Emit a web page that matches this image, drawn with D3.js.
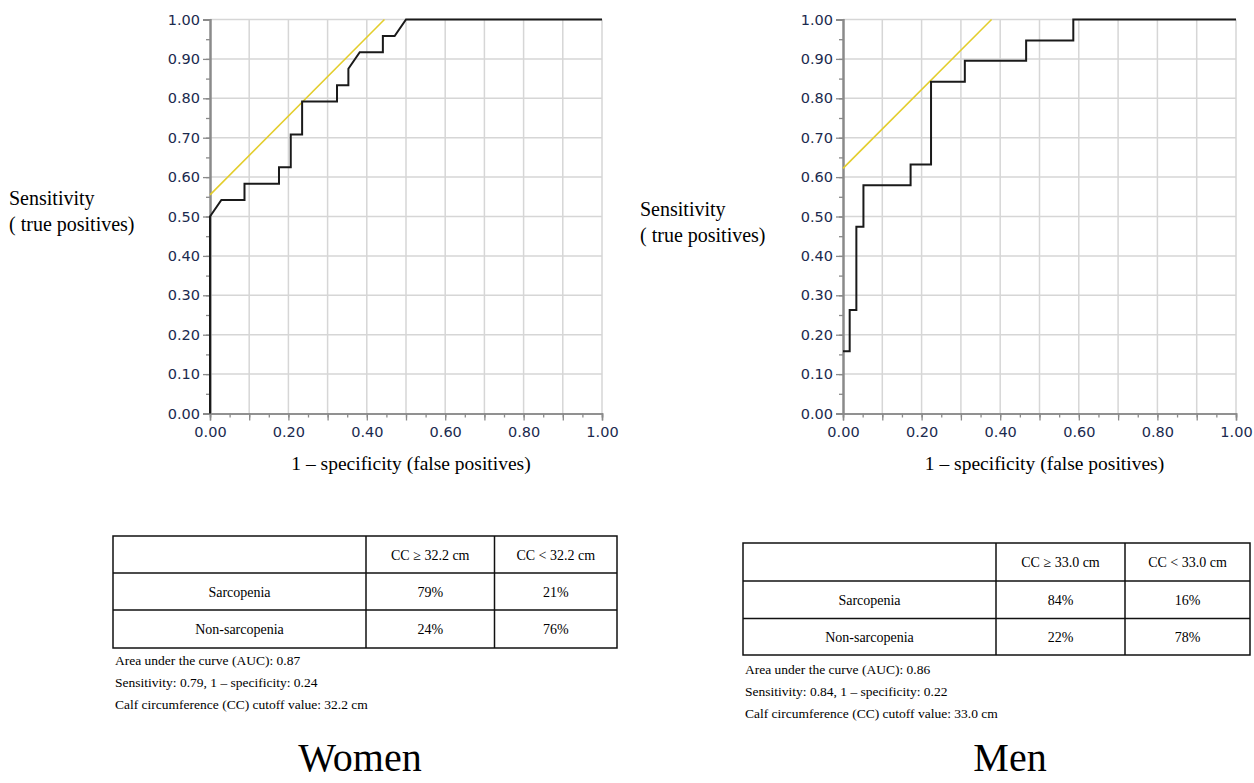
<!DOCTYPE html>
<html>
<head>
<meta charset="utf-8">
<script src="https://cdn.jsdelivr.net/npm/d3@7"></script>
<style>
  body { margin: 0; background: #fff; }
  svg { display: block; }
</style>
</head>
<body>
<div id="chart"></div>
<script>
// ROC curve steps (1 - specificity, sensitivity)
const womenFpr = [0, 0, 0.029, 0.088, 0.088, 0.176, 0.176, 0.206, 0.206, 0.235, 0.235, 0.324, 0.324, 0.353, 0.353, 0.382, 0.441, 0.441, 0.471, 0.5, 1]
const womenTpr = [0, 0.5, 0.542, 0.542, 0.583, 0.583, 0.625, 0.625, 0.708, 0.708, 0.792, 0.792, 0.833, 0.833, 0.875, 0.917, 0.917, 0.958, 0.958, 1, 1]
const menFpr = [0, 0.017, 0.017, 0.034, 0.034, 0.052, 0.052, 0.172, 0.172, 0.224, 0.224, 0.31, 0.31, 0.466, 0.466, 0.586, 0.586, 1]
const menTpr = [0.158, 0.158, 0.263, 0.263, 0.474, 0.474, 0.579, 0.579, 0.632, 0.632, 0.842, 0.842, 0.895, 0.895, 0.947, 0.947, 1, 1]

// tangent (cutoff) lines, start / end
const womenTangentX = [0, 0.445]
const womenTangentY = [0.555, 1]
const menTangentX = [0, 0.378]
const menTangentY = [0.622, 1]

// tables
const womenHeader = ["", "CC \u2265 32.2 cm", "CC < 32.2 cm"]
const womenRows = [["Sarcopenia", "79%", "21%"], ["Non-sarcopenia", "24%", "76%"]]
const womenNotes = ["Area under the curve (AUC): 0.87", "Sensitivity: 0.79, 1 \u2013 specificity: 0.24", "Calf circumference (CC) cutoff value: 32.2 cm"]
const menHeader = ["", "CC \u2265 33.0 cm", "CC < 33.0 cm"]
const menRows = [["Sarcopenia", "84%", "16%"], ["Non-sarcopenia", "22%", "78%"]]
const menNotes = ["Area under the curve (AUC): 0.86", "Sensitivity: 0.84, 1 \u2013 specificity: 0.22", "Calf circumference (CC) cutoff value: 33.0 cm"]

const panelTitles = ["Women", "Men"]
const xTitle = "1 \u2013 specificity (false positives)"
const yTitle = ["Sensitivity", "( true positives)"]

const width = 1254, height = 783
const serif = "'Liberation Serif', 'Times New Roman', serif"
const tickColor = "#1b2a4e"

const svg = d3.create("svg")
  .attr("width", width)
  .attr("height", height)
  .attr("viewBox", [0, 0, width, height])
svg.append("rect").attr("width", width).attr("height", height).attr("fill", "#fff")

function drawRoc({ left, right, top, bottom, fpr, tpr, tx, ty, yTitleX, yTitleY }) {
  const x = d3.scaleLinear().domain([0, 1]).range([left, right])
  const y = d3.scaleLinear().domain([0, 1]).range([bottom, top])
  const g = svg.append("g")
  const grid = d3.range(0, 1.0001, 0.1)

  // grid
  g.append("g")
    .attr("stroke", "#d6d6d6")
    .attr("stroke-width", 1.5)
    .call(s => s.selectAll(".v").data(grid.slice(1)).join("line")
      .attr("x1", d => x(d)).attr("x2", d => x(d)).attr("y1", top).attr("y2", bottom))
    .call(s => s.selectAll(".h").data(grid.slice(1)).join("line")
      .attr("x1", left).attr("x2", right).attr("y1", d => y(d)).attr("y2", d => y(d)))

  // minor ticks
  const xMinor = d3.axisBottom(x).tickValues(d3.range(0, 1.0001, 0.05)).tickSize(4).tickFormat("")
  const yMinor = d3.axisLeft(y).tickValues(d3.range(0, 1.0001, 0.05)).tickSize(4).tickFormat("")
  const xAxis = d3.axisBottom(x).tickValues(grid).tickSize(7).tickPadding(6)
    .tickFormat(d => Math.round(d * 10) % 2 === 0 ? d3.format(".2f")(d) : "")
  const yAxis = d3.axisLeft(y).tickValues(grid).tickSize(7).tickPadding(3).tickFormat(d3.format(".2f"))

  const styleAxis = (s, w) => {
    s.selectAll(".domain").attr("stroke", "#8a8a8a").attr("stroke-width", w)
    s.selectAll(".tick line").attr("stroke", "#8a8a8a").attr("stroke-width", 1.3)
    s.selectAll(".tick text").attr("fill", tickColor)
      .style("font-family", "'DejaVu Sans', sans-serif").style("font-size", "14.5px")
  }
  g.append("g").attr("transform", `translate(0,${bottom})`).call(xMinor).call(styleAxis, 1.5)
  g.append("g").attr("transform", `translate(0,${bottom})`).call(xAxis).call(styleAxis, 1.5)
  g.append("g").attr("transform", `translate(${left},0)`).call(yMinor).call(styleAxis, 2)
  g.append("g").attr("transform", `translate(${left},0)`).call(yAxis).call(styleAxis, 2)

  // tangent line
  g.append("line")
    .attr("x1", x(tx[0])).attr("y1", y(ty[0]))
    .attr("x2", x(tx[1])).attr("y2", y(ty[1]))
    .attr("stroke", "#e3cd2c")
    .attr("stroke-width", 1.6)

  // roc curve
  const line = d3.line().x(i => x(fpr[i])).y(i => y(tpr[i]))
  g.append("path")
    .attr("d", line(d3.range(fpr.length)))
    .attr("fill", "none")
    .attr("stroke", "#1a1a1a")
    .attr("stroke-width", 2)
    .attr("stroke-linejoin", "miter")

  // titles
  g.append("text")
    .attr("x", (left + right) / 2 + 5).attr("y", 470)
    .attr("text-anchor", "middle")
    .style("font-family", serif).style("font-size", "19.5px")
    .text(xTitle)
  g.append("text")
    .style("font-family", serif).style("font-size", "20px")
    .selectAll("tspan").data(yTitle).join("tspan")
    .attr("x", yTitleX).attr("y", (d, i) => yTitleY + i * 26)
    .text(d => d)
}

function drawTable({ cols, rowsY, header, rows, notes, notesY, title, titleX }) {
  const g = svg.append("g").style("font-family", serif)
  const [x0, c1, c2, x1] = cols
  g.append("rect")
    .attr("x", x0).attr("y", rowsY[0])
    .attr("width", x1 - x0).attr("height", rowsY[3] - rowsY[0])
    .attr("fill", "none").attr("stroke", "#111").attr("stroke-width", 1.5)
  g.selectAll(".rl").data(rowsY.slice(1, 3)).join("line")
    .attr("x1", x0).attr("x2", x1).attr("y1", d => d).attr("y2", d => d)
    .attr("stroke", "#111").attr("stroke-width", 1.5)
  g.selectAll(".cl").data([c1, c2]).join("line")
    .attr("x1", d => d).attr("x2", d => d).attr("y1", rowsY[0]).attr("y2", rowsY[3])
    .attr("stroke", "#111").attr("stroke-width", 1.5)

  const centers = [(x0 + c1) / 2, (c1 + c2) / 2, (c2 + x1) / 2]
  const table = [header, ...rows]
  table.forEach((row, r) => {
    g.selectAll(null).data(row).join("text")
      .attr("x", (d, i) => centers[i])
      .attr("y", (rowsY[r] + rowsY[r + 1]) / 2 + 5)
      .attr("text-anchor", "middle")
      .style("font-size", "14px")
      .text(d => d)
  })
  g.selectAll(".note").data(notes).join("text")
    .attr("x", x0 + 2)
    .attr("y", (d, i) => notesY + i * 22)
    .style("font-size", "13.5px")
    .text(d => d)

  g.append("text")
    .attr("x", titleX).attr("y", 771)
    .attr("text-anchor", "middle")
    .style("font-size", "40px")
    .text(title)
}

drawRoc({ left: 210, right: 602, top: 19.5, bottom: 413.5, fpr: womenFpr, tpr: womenTpr,
  tx: womenTangentX, ty: womenTangentY, yTitleX: 9, yTitleY: 205 })
drawRoc({ left: 843, right: 1236, top: 19.5, bottom: 413.5, fpr: menFpr, tpr: menTpr,
  tx: menTangentX, ty: menTangentY, yTitleX: 640, yTitleY: 216 })

drawTable({ cols: [113, 366, 494.5, 617], rowsY: [536, 573, 610, 648], header: womenHeader,
  rows: womenRows, notes: womenNotes, notesY: 665, title: panelTitles[0], titleX: 360 })
drawTable({ cols: [743, 996, 1125, 1250], rowsY: [543, 581, 618.5, 655], header: menHeader,
  rows: menRows, notes: menNotes, notesY: 674, title: panelTitles[1], titleX: 1010 })

document.querySelector("#chart").append(svg.node())
</script>
</body>
</html>
